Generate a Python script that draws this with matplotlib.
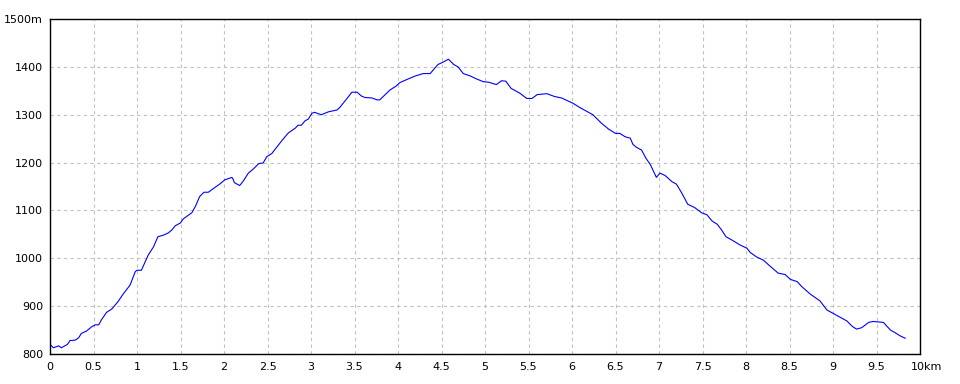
import matplotlib
matplotlib.use("Agg")
import matplotlib.pyplot as plt
import matplotlib.transforms as mtransforms

dist_km = [0.00, 0.04, 0.10, 0.13, 0.17, 0.20, 0.23, 0.29, 0.33, 0.36, 0.42, 0.48, 0.52, 0.56,
           0.59, 0.65, 0.71, 0.78, 0.84, 0.92, 0.98, 1.00, 1.05, 1.13, 1.19, 1.24, 1.30, 1.36,
           1.40, 1.44, 1.50, 1.53, 1.59, 1.63, 1.67, 1.72, 1.77, 1.82, 1.88, 1.95, 2.01, 2.09,
           2.10, 2.12, 2.18, 2.22, 2.28, 2.34, 2.40, 2.45, 2.49, 2.55, 2.61, 2.67, 2.74, 2.82,
           2.85, 2.89, 2.93, 2.97, 3.01, 3.04, 3.12, 3.20, 3.30, 3.33, 3.41, 3.47, 3.53, 3.58,
           3.62, 3.70, 3.76, 3.79, 3.91, 3.98, 4.02, 4.12, 4.20, 4.29, 4.37, 4.46, 4.52, 4.58,
           4.64, 4.69, 4.75, 4.83, 4.90, 4.98, 5.04, 5.13, 5.19, 5.24, 5.30, 5.40, 5.48, 5.54,
           5.60, 5.71, 5.80, 5.88, 6.01, 6.09, 6.19, 6.24, 6.34, 6.42, 6.50, 6.55, 6.61, 6.67,
           6.70, 6.74, 6.80, 6.85, 6.90, 6.97, 7.01, 7.07, 7.15, 7.20, 7.26, 7.33, 7.41, 7.49,
           7.55, 7.61, 7.67, 7.72, 7.77, 7.84, 7.93, 8.01, 8.05, 8.12, 8.20, 8.28, 8.37, 8.45,
           8.51, 8.59, 8.64, 8.74, 8.85, 8.93, 9.00, 9.10, 9.16, 9.22, 9.27, 9.33, 9.41, 9.46,
           9.58, 9.66, 9.71, 9.77, 9.83]
elev_m = [820, 813, 817, 813, 817, 820, 828, 829, 834, 843, 848, 857, 861, 861,
          871, 887, 894, 909, 925, 944, 972, 975, 975, 1007, 1024, 1045, 1048, 1053,
          1059, 1068, 1074, 1082, 1090, 1095, 1108, 1129, 1138, 1138, 1146, 1155, 1164, 1169,
          1167, 1158, 1152, 1161, 1178, 1187, 1198, 1199, 1212, 1219, 1233, 1247, 1262, 1272,
          1278, 1278, 1287, 1291, 1303, 1305, 1300, 1306, 1310, 1315, 1333, 1347, 1347, 1339,
          1336, 1335, 1331, 1331, 1352, 1360, 1367, 1375, 1381, 1386, 1386, 1405, 1410, 1416,
          1405, 1400, 1386, 1381, 1375, 1369, 1368, 1363, 1371, 1370, 1355, 1345, 1334, 1334,
          1342, 1344, 1338, 1335, 1324, 1315, 1305, 1300, 1282, 1270, 1261, 1261, 1254, 1251,
          1238, 1232, 1226, 1209, 1196, 1169, 1178, 1173, 1160, 1155, 1137, 1113, 1106, 1095,
          1091, 1078, 1071, 1059, 1045, 1038, 1028, 1021, 1012, 1003, 996, 983, 969, 966,
          956, 951, 941, 925, 911, 892, 885, 875, 869, 858, 852, 855, 866, 868,
          866, 850, 845, 838, 833]

x_ticks = [0, 0.5, 1, 1.5, 2, 2.5, 3, 3.5, 4, 4.5, 5, 5.5, 6, 6.5, 7, 7.5, 8, 8.5, 9, 9.5, 10]
x_labels = ["0", "0.5", "1", "1.5", "2", "2.5", "3", "3.5", "4", "4.5", "5", "5.5", "6",
            "6.5", "7", "7.5", "8", "8.5", "9", "9.5", "10km"]
y_ticks = [800, 900, 1000, 1100, 1200, 1300, 1400, 1500]
y_labels = ["800", "900", "1000", "1100", "1200", "1300", "1400", "1500m"]

plt.rcParams['font.family'] = ['Liberation Sans Narrow', 'DejaVu Sans']

fig = plt.figure(figsize=(9.6, 3.84), dpi=100)
ax = fig.add_axes([50 / 960, 30 / 384, 870 / 960, 335 / 384])

ax.plot(dist_km, elev_m, color="#0000ff", lw=0.8)

ax.set_xlim(0, 10)
ax.set_ylim(800, 1500)
ax.set_xticks(x_ticks)
ax.set_xticklabels(x_labels)
ax.set_yticks(y_ticks)
ax.set_yticklabels(y_labels)
ax.tick_params(axis="both", length=0, labelsize=8, colors="black")
ax.tick_params(axis="x", pad=6)
ax.tick_params(axis="y", pad=5)

ax.grid(True, color="#c0c0c0", linestyle=(0, (3, 3)), linewidth=0.8)
ax.set_axisbelow(True)
for s in ax.spines.values():
    s.set_color("black")
    s.set_linewidth(1.0)

# shift the last x label so the number sits at the tick and "km" follows
lbl = ax.get_xticklabels()[-1]
lbl.set_transform(lbl.get_transform() + mtransforms.ScaledTranslation(7 / 100, 0, fig.dpi_scale_trans))

fig.savefig("out.png", dpi=100, facecolor="white")
